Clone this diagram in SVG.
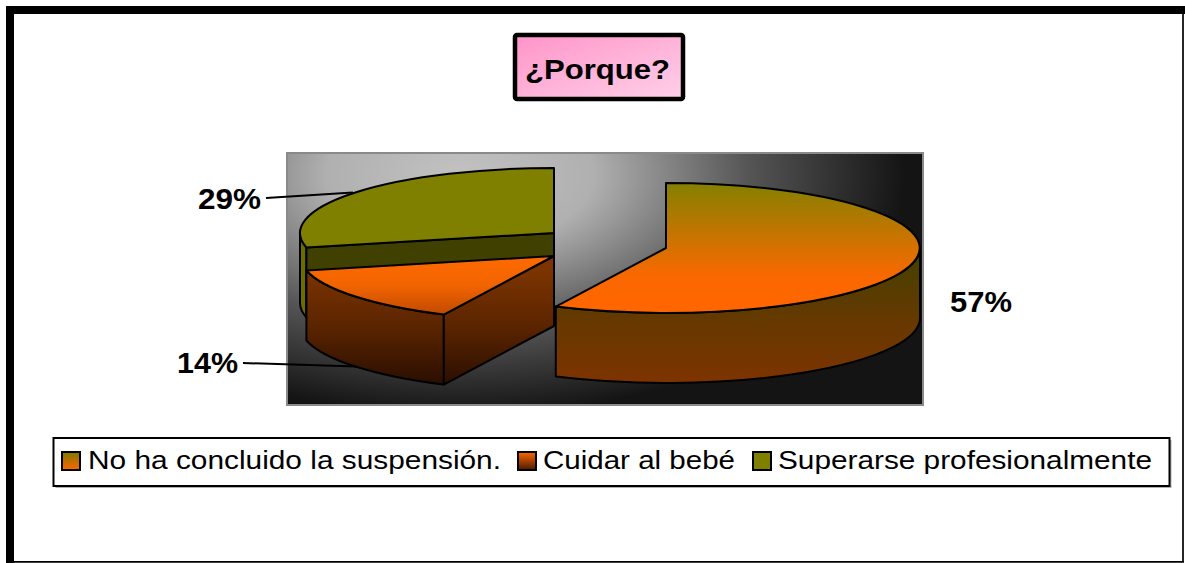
<svg xmlns="http://www.w3.org/2000/svg" width="1185" height="563" viewBox="0 0 1185 563">
<defs>
<style>
.lbl{font-family:"Liberation Sans",Arial,sans-serif;font-weight:bold;font-size:30px;fill:#000}
.leg{font-family:"Liberation Sans",Arial,sans-serif;font-size:26.5px;fill:#000}
.pie{stroke:#000;stroke-width:2;stroke-linejoin:round}
.lead{stroke:#000;stroke-width:2;fill:none}
.sq{stroke:#000;stroke-width:2}
</style>
<radialGradient id="bg" gradientUnits="userSpaceOnUse" cx="0" cy="0" r="1" gradientTransform="translate(460 175) scale(445 240)">
<stop offset="0" stop-color="#c2c2c2"/>
<stop offset="0.3" stop-color="#b0b0b0"/>
<stop offset="0.65" stop-color="#555"/>
<stop offset="1" stop-color="#141414"/>
</radialGradient>
<linearGradient id="pinkG" x1="0" y1="0" x2="1" y2="1">
<stop offset="0" stop-color="#ff94c8"/>
<stop offset="1" stop-color="#ffd0e8"/>
</linearGradient>
<linearGradient id="bigTop" gradientUnits="userSpaceOnUse" x1="0" y1="185" x2="0" y2="300">
<stop offset="0" stop-color="#868000"/>
<stop offset="0.45" stop-color="#c87400"/>
<stop offset="0.8" stop-color="#fa6800"/>
<stop offset="1" stop-color="#ff6600"/>
</linearGradient>
<linearGradient id="bigSide" gradientUnits="userSpaceOnUse" x1="0" y1="255" x2="0" y2="383">
<stop offset="0" stop-color="#464000"/>
<stop offset="0.5" stop-color="#653900"/>
<stop offset="1" stop-color="#7e3300"/>
</linearGradient>
<linearGradient id="smTop" gradientUnits="userSpaceOnUse" x1="0" y1="256" x2="0" y2="315">
<stop offset="0" stop-color="#ff6a00"/>
<stop offset="0.5" stop-color="#f26400"/>
<stop offset="1" stop-color="#c04a00"/>
</linearGradient>
<linearGradient id="smSide" gradientUnits="userSpaceOnUse" x1="0" y1="270" x2="0" y2="385">
<stop offset="0" stop-color="#7c3400"/>
<stop offset="0.5" stop-color="#5a2400"/>
<stop offset="1" stop-color="#2a0e00"/>
</linearGradient>
<linearGradient id="sq1" x1="0" y1="0" x2="0" y2="1">
<stop offset="0" stop-color="#807800"/>
<stop offset="1" stop-color="#ff6600"/>
</linearGradient>
<linearGradient id="sq2" x1="0" y1="0" x2="0" y2="1">
<stop offset="0" stop-color="#ff6600"/>
<stop offset="1" stop-color="#4a1a00"/>
</linearGradient>
</defs>
<rect width="1185" height="563" fill="#fff"/>
<g id="frame">
<rect x="6" y="6" width="1179" height="8" fill="#000"/>
<rect x="6" y="6" width="8" height="557" fill="#000"/>
<line x1="1183" y1="6" x2="1183" y2="562" stroke="#000" stroke-width="1.7"/>
<line x1="6" y1="561.8" x2="1184" y2="561.8" stroke="#000" stroke-width="1.7"/>
</g>
<g id="title">
<rect x="515" y="35" width="168" height="64" rx="2" fill="url(#pinkG)" stroke="#000" stroke-width="4.5"/>
<text x="525" y="79" class="lbl" style="font-size:28px" textLength="145" lengthAdjust="spacingAndGlyphs">¿Porque?</text>
</g>
<g id="plot-area">
<rect x="287" y="153" width="636" height="252" fill="url(#bg)" stroke="#8a8a8a" stroke-width="2"/>
</g>
<g id="slice-29">
<path class="pie" fill="#6c6c00" d="M306.4,247.5 A254,65 0 0 1 300,233 L300,303 A254,65 0 0 0 306.4,317.5 Z"/>
<path class="pie" fill="#404000" d="M554,233 L306.4,247.5 L306.4,317.5 L554,303 Z"/>
<path class="pie" fill="#808000" d="M554,233 L306.4,247.5 A254,65 0 0 1 554,168 Z"/>
</g>
<g id="slice-14">
<path class="pie" fill="url(#smSide)" d="M443.8,314.6 A254,65 0 0 1 306.4,270.5 L306.4,340.5 A254,65 0 0 0 443.8,384.6 Z"/>
<path class="pie" fill="url(#smSide)" d="M554,256 L443.8,314.6 L443.8,384.6 L554,326 Z"/>
<path class="pie" fill="url(#smTop)" d="M554,256 L443.8,314.6 A254,65 0 0 1 306.4,270.5 Z"/>
</g>
<g id="slice-57">
<path class="pie" fill="url(#bigSide)" d="M920,248 A254,65 0 0 1 555.8,306.6 L555.8,376.6 A254,65 0 0 0 920,318 Z"/>
<path class="pie" fill="url(#bigTop)" d="M666,248 L666,183 A254,65 0 1 1 555.8,306.6 Z"/>
</g>
<g id="connectors">
<polyline class="lead" points="266,198 353,192.5"/>
<polyline class="lead" points="243,363 356,366.5"/>
</g>
<g id="labels">
<text x="198" y="209" class="lbl" textLength="63" lengthAdjust="spacingAndGlyphs">29%</text>
<text x="177" y="373" class="lbl" textLength="61" lengthAdjust="spacingAndGlyphs">14%</text>
<text x="950" y="312" class="lbl" textLength="62" lengthAdjust="spacingAndGlyphs">57%</text>
</g>
<g id="legend">
<rect x="55.5" y="440" width="1116" height="48" fill="#b0b0b0"/>
<rect x="53.5" y="438" width="1116" height="48" fill="#fff" stroke="#000" stroke-width="2"/>
<rect class="sq" x="62" y="452" width="18" height="18" fill="url(#sq1)"/>
<text class="leg" x="88" y="469" textLength="413" lengthAdjust="spacingAndGlyphs">No ha concluido la suspensión.</text>
<rect class="sq" x="518" y="452" width="18" height="18" fill="url(#sq2)"/>
<text class="leg" x="543" y="469" textLength="192" lengthAdjust="spacingAndGlyphs">Cuidar al bebé</text>
<rect class="sq" x="753" y="452" width="18" height="18" fill="#808000"/>
<text class="leg" x="778" y="469" textLength="374" lengthAdjust="spacingAndGlyphs">Superarse profesionalmente</text>
</g>
</svg>
